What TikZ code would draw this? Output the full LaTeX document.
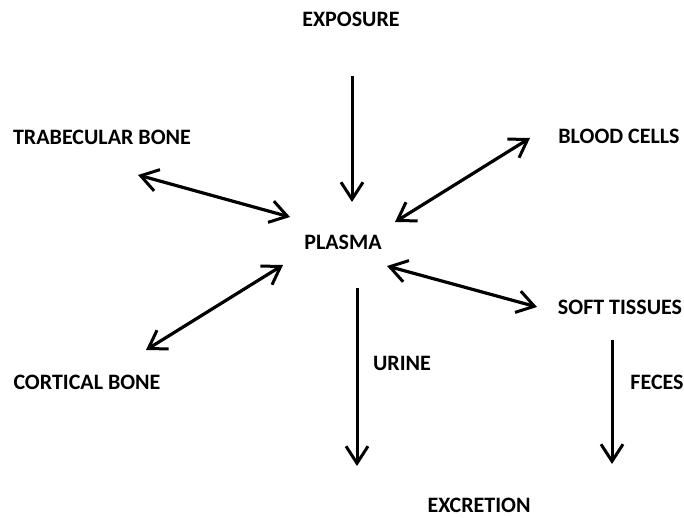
\documentclass[tikz,border=0pt]{standalone}
\usepackage{fontspec}
\setmainfont{Carlito}
\usetikzlibrary{arrows.meta}
\begin{document}
\begin{tikzpicture}[x=1pt,y=-1pt,
  lbl/.style={font=\bfseries\fontsize{22}{24}\selectfont, inner sep=0pt, anchor=center},
  barb/.tip={Straight Barb[length=17pt,width=22pt,line width=3pt]},
  flow/.style={line width=3pt, -barb},
  both/.style={line width=3.2pt, barb-barb}]
\useasboundingbox (0,0) rectangle (684,518);
\node[lbl] (exp) at (351,19) {EXPOSURE};
\node[lbl] (tb) at (102,137) {TRABECULAR BONE};
\node[lbl] (bc) at (619,136) {BLOOD CELLS};
\node[lbl] (pl) at (343,242) {PLASMA};
\node[lbl] (cb) at (87,382) {CORTICAL BONE};
\node[lbl] (ur) at (402,363) {URINE};
\node[lbl] (st) at (620,307) {SOFT TISSUES};
\node[lbl] (fe) at (657,382) {FECES};
\node[lbl] (ex) at (479,505) {EXCRETION};
\coordinate (e1) at (352,76); \coordinate (e2) at (352,202);
\coordinate (t1) at (138,175); \coordinate (t2) at (290,217);
\coordinate (b1) at (530,138); \coordinate (b2) at (395,222);
\coordinate (c1) at (283,265); \coordinate (c2) at (146,350);
\coordinate (u1) at (357,288); \coordinate (u2) at (357,466);
\coordinate (s1) at (387,266); \coordinate (s2) at (537,307);
\coordinate (f1) at (612,340); \coordinate (f2) at (612,464);
\draw[flow] (e1) -- (e2);
\draw[both] (t1) -- (t2);
\draw[both] (b1) -- (b2);
\draw[both] (c1) -- (c2);
\draw[flow] (u1) -- (u2);
\draw[both] (s1) -- (s2);
\draw[flow] (f1) -- (f2);
\end{tikzpicture}
\end{document}
